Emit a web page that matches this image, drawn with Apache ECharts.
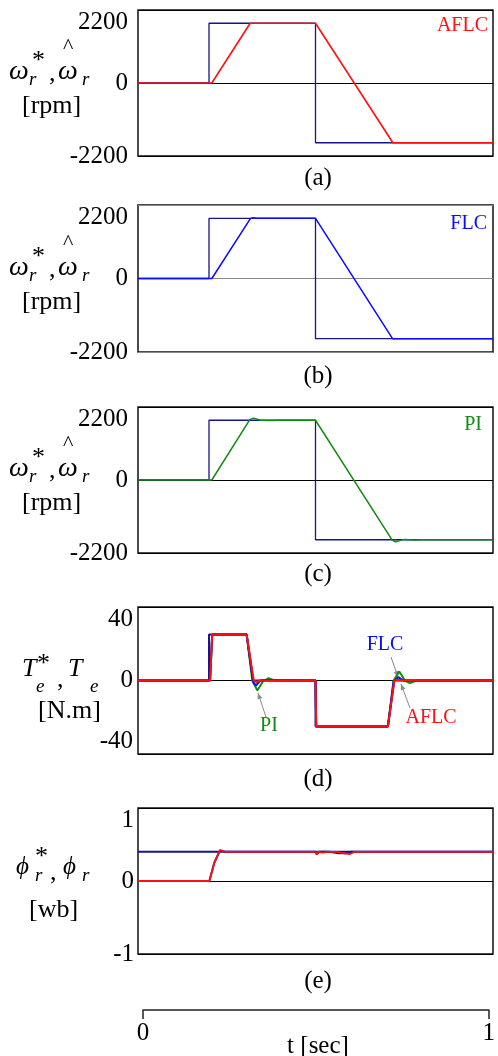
<!DOCTYPE html>
<html>
<head>
<meta charset="utf-8">
<script src="https://cdn.jsdelivr.net/npm/echarts@6/dist/echarts.min.js"></script>
<style>
html,body{margin:0;padding:0;background:#fff;}
#chart{width:498px;height:1056px;}
</style>
</head>
<body>
<div id="chart"></div>
<script>
// ---------- data ----------
// speed reference (rpm)
const tSpeedRef = [0, 0.2, 0.2, 0.5, 0.5, 1];
const speedRef  = [0, 0, 1800, 1800, -1800, -1800];
// estimated speed, AFLC
const tSpeedAFLC = [0, 0.208, 0.316, 0.5, 0.718, 1];
const speedAFLC  = [0, 0, 1800, 1800, -1800, -1800];
// estimated speed, FLC
const tSpeedFLC = [0, 0.208, 0.317, 0.323, 0.335, 0.5, 0.717, 0.722, 0.735, 1];
const speedFLC  = [0, 0, 1800, 1815, 1800, 1800, -1800, -1812, -1800, -1800];
// estimated speed, PI
const tSpeedPI = [0, 0.208, 0.315, 0.326, 0.345, 0.37, 0.4, 0.5, 0.716, 0.725, 0.75, 0.78, 0.8, 1];
const speedPI  = [0, 0, 1820, 1865, 1800, 1790, 1800, 1800, -1810, -1860, -1790, -1805, -1800, -1800];

// torque (N.m)
const tTorqueRef = [0, 0.2, 0.2, 0.306, 0.324, 0.5, 0.5, 0.704, 0.722, 1];
const torqueRef  = [0, 0, 25, 25, 0, 0, -25, -25, 0, 0];
const tTorqueAFLC = [0, 0.203, 0.209, 0.306, 0.326, 0.333, 0.345, 0.5, 0.502, 0.704, 0.722, 0.73, 0.745, 1];
const torqueAFLC  = [0, 0, 25, 25, 0, -0.8, 0, 0, -25, -25, 0, 0.4, 0, 0];
const tTorqueFLC = [0, 0.203, 0.209, 0.306, 0.325, 0.332, 0.345, 0.36, 0.5, 0.502, 0.704, 0.72, 0.733, 0.748, 1];
const torqueFLC  = [0, 0, 25, 25, -1, -2.7, 0, 0.3, 0, -25, -25, -0.5, 1.8, 0, 0];
const tTorquePI = [0, 0.203, 0.209, 0.306, 0.322, 0.336, 0.352, 0.367, 0.385, 0.5, 0.502, 0.704, 0.72, 0.736, 0.752, 0.766, 0.785, 1];
const torquePI  = [0, 0, 25, 25, 0, -5.4, -0.5, 1.2, 0, 0, -25, -25, 0, 4.9, 0, -1.4, 0, 0];

// rotor flux (wb)
const tFluxRef = [0, 1];
const fluxRef  = [0.4, 0.4];
const tFluxFLC = [0, 0.201, 0.215, 0.231, 0.245, 0.5, 0.505, 0.51, 0.54, 0.565, 0.585, 0.6, 1];
const fluxFLC  = [0, 0, 0.25, 0.42, 0.4, 0.4, 0.37, 0.4, 0.4, 0.38, 0.38, 0.4, 0.4];
const tFluxAFLC = [0, 0.201, 0.215, 0.231, 0.245, 0.5, 0.503, 0.508, 0.52, 0.535, 0.56, 0.58, 0.597, 0.61, 1];
const fluxAFLC  = [0, 0, 0.25, 0.425, 0.4, 0.4, 0.36, 0.4, 0.39, 0.4, 0.4, 0.38, 0.37, 0.4, 0.4];

// axis ranges / tick labels
const speedAxis  = {min: -2200, max: 2200, interval: 2200};
const torqueAxis = {min: -40, max: 40, interval: 40};
const fluxAxis   = {min: -1, max: 1, interval: 1};
const timeAxis   = {min: 0, max: 1, interval: 1};
const panelLetters = ['(a)', '(b)', '(c)', '(d)', '(e)'];
const timeTitle = 't [sec]';

// ---------- styling ----------
const FONT = '"Liberation Serif", "Times New Roman", serif';
const NAVY = '#15158c', RED = '#ff1010', BLUE = '#0a0aff', GREEN = '#138a13';

const panels = [
  {top: 10,  height: 146, axis: speedAxis,  zeroColor: '#000', margin: 10, minVA: 'middle'},
  {top: 205, height: 147, axis: speedAxis,  zeroColor: '#888', margin: 10, minVA: 'middle'},
  {top: 407, height: 146, axis: speedAxis,  zeroColor: '#000', margin: 10, minVA: 'middle'},
  {top: 607, height: 147, axis: torqueAxis, zeroColor: '#000', margin: 5,  minVA: 'bottom'},
  {top: 808, height: 146, axis: fluxAxis,   zeroColor: '#000', margin: 4,  minVA: 'middle'}
];

const grids = panels.map(p => ({
  left: 138, right: 5, top: p.top, height: p.height,
  show: true, borderColor: '#111', borderWidth: 1.5, backgroundColor: 'transparent'
}));
grids.push({left: 143, right: 5, top: 1000, height: 10, show: false});

const fmt = v => String(v);

const xAxes = panels.map((p, i) => ({
  gridIndex: i, type: 'value', min: 0, max: 1, show: false
}));
xAxes.push({
  gridIndex: 5, type: 'value', min: timeAxis.min, max: timeAxis.max, interval: timeAxis.interval,
  position: 'bottom',
  axisLine: {show: true, onZero: false, lineStyle: {color: '#222', width: 1.5}},
  axisTick: {show: true, inside: false, length: 9, lineStyle: {color: '#222', width: 1.5}},
  splitLine: {show: false},
  axisLabel: {fontFamily: FONT, fontSize: 25, color: '#000', margin: 11, formatter: fmt}
});

const yAxes = panels.map((p, i) => ({
  gridIndex: i, type: 'value', min: p.axis.min, max: p.axis.max, interval: p.axis.interval,
  axisLine: {show: false}, axisTick: {show: false},
  splitLine: {show: true, lineStyle: {color: p.zeroColor, width: 1}},
  axisLabel: {
    fontFamily: FONT, fontSize: 25, color: '#000', margin: p.margin, formatter: fmt,
    verticalAlignMaxLabel: 'top', verticalAlignMinLabel: p.minVA
  }
}));
yAxes.push({gridIndex: 5, type: 'value', show: false, min: 0, max: 1});

function zip(t, v) { return t.map((x, i) => [x, v[i]]); }
function line(idx, t, v, color, width) {
  return {
    type: 'line', xAxisIndex: idx, yAxisIndex: idx, data: zip(t, v),
    showSymbol: false, symbol: 'none', silent: true,
    lineStyle: {color: color, width: width}
  };
}

const series = [
  line(0, tSpeedRef, speedRef, NAVY, 1.3),
  line(0, tSpeedAFLC, speedAFLC, RED, 1.6),
  line(1, tSpeedRef, speedRef, NAVY, 1.3),
  line(1, tSpeedFLC, speedFLC, BLUE, 1.5),
  line(2, tSpeedRef, speedRef, NAVY, 1.3),
  line(2, tSpeedPI, speedPI, GREEN, 1.5),
  line(3, tTorquePI, torquePI, GREEN, 2),
  line(3, tTorqueFLC, torqueFLC, BLUE, 2),
  line(3, tTorqueRef, torqueRef, NAVY, 2),
  line(3, tTorqueAFLC, torqueAFLC, RED, 2),
  line(4, tFluxRef, fluxRef, NAVY, 2),
  line(4, tFluxFLC, fluxFLC, NAVY, 2),
  line(4, tFluxAFLC, fluxAFLC, RED, 1.8)
];

// ---------- text annotations ----------
const g = [];
function txt(s, x, baseline, size, opts) {
  opts = opts || {};
  g.push({
    type: 'text', x: x, y: baseline - 0.34 * size, silent: true,
    style: {
      text: s, fontFamily: FONT, fontSize: size,
      fontStyle: opts.italic ? 'italic' : 'normal',
      fill: opts.color || '#000', align: opts.align || 'left', verticalAlign: 'middle'
    }
  });
}
function arrow(x1, y1, x2, y2) {
  g.push({type: 'line', silent: true, shape: {x1, y1, x2, y2}, style: {stroke: '#8a8a8a', lineWidth: 1}});
  const a = Math.atan2(y2 - y1, x2 - x1), L = 6, W = 2.5;
  const bx = x2 - L * Math.cos(a), by = y2 - L * Math.sin(a);
  g.push({type: 'polygon', silent: true, shape: {points: [
    [x2, y2],
    [bx + W * Math.sin(a), by - W * Math.cos(a)],
    [bx - W * Math.sin(a), by + W * Math.cos(a)]
  ]}, style: {fill: '#8a8a8a'}});
}

// speed titles (panels a, b, c)
[82, 278, 479].forEach(Z => {
  txt('ω', 9, Z - 1, 28, {italic: true});
  txt('r', 29, Z + 4, 19, {italic: true});
  txt('*', 32, Z - 12, 26);
  txt(',', 49, Z + 1, 26);
  txt('ω', 58, Z - 1, 28, {italic: true});
  txt('^', 63, Z - 27, 22);
  txt('r', 82, Z + 4, 19, {italic: true});
  txt('[rpm]', 22, Z + 33, 26);
});
// torque title
(function () {
  const Z = 680;
  txt('T', 22, Z - 2, 26, {italic: true});
  txt('e', 36, Z + 13, 19, {italic: true});
  txt('*', 37, Z - 7, 26);
  txt(',', 57, Z + 9, 26);
  txt('T', 68, Z - 2, 26, {italic: true});
  txt('e', 90, Z + 13, 19, {italic: true});
  txt('[N.m]', 38, Z + 40, 26);
})();
// flux title
(function () {
  const Z = 881;
  txt('ϕ', 16, Z - 5, 25, {italic: true});
  txt('r', 35, Z + 1, 19, {italic: true});
  txt('*', 35, Z - 15, 26);
  txt(',', 50, Z + 1, 26);
  txt('ϕ', 63, Z - 5, 25, {italic: true});
  txt('r', 82, Z + 1, 19, {italic: true});
  txt('[wb]', 29, Z + 38, 26);
})();

// panel letters
[187, 385, 583, 788, 990].forEach((bl, i) => txt(panelLetters[i], 318, bl, 25, {align: 'center'}));

// controller labels
txt('AFLC', 488, 33, 20, {color: RED, align: 'right'});
txt('FLC', 487, 231, 20, {color: BLUE, align: 'right'});
txt('PI', 482, 432, 20, {color: GREEN, align: 'right'});
txt('FLC', 385, 652, 20, {color: BLUE, align: 'center'});
txt('PI', 269, 733, 20, {color: GREEN, align: 'center'});
txt('AFLC', 431, 725, 20, {color: RED, align: 'center'});
arrow(266, 717, 258, 693);
arrow(391, 657, 398, 677);
arrow(410, 708, 401, 684);

// time title
txt(timeTitle, 318, 1055, 25, {align: 'center'});

const chart = echarts.init(document.getElementById('chart'), null, {renderer: 'canvas'});
chart.setOption({
  animation: false,
  backgroundColor: '#fff',
  grid: grids,
  xAxis: xAxes,
  yAxis: yAxes,
  series: series,
  graphic: g
});
</script>
</body>
</html>
